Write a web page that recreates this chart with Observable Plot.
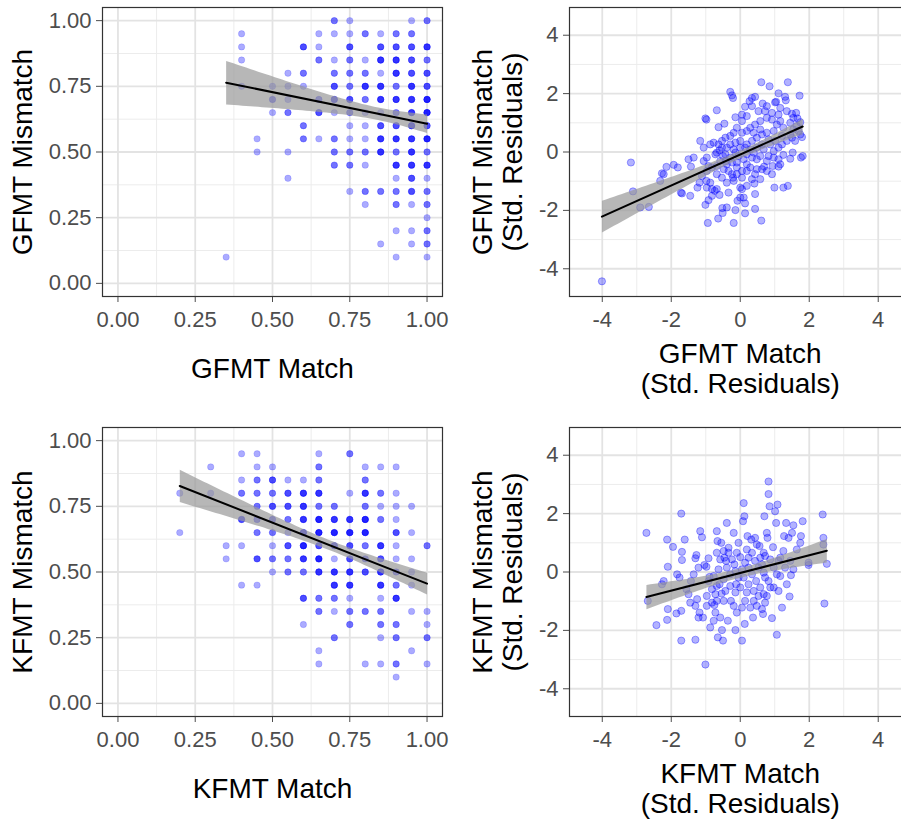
<!DOCTYPE html>
<html><head><meta charset="utf-8">
<script src="https://cdn.jsdelivr.net/npm/d3@7"></script>
<script src="https://cdn.jsdelivr.net/npm/@observablehq/plot@0.6"></script>
<style>
html,body{margin:0;padding:0;background:#fff;overflow:hidden}
#fig{position:relative;width:901px;height:820px;overflow:hidden;background:#fff}
.panel{position:absolute}
</style></head><body><div id="fig"></div>
<script>
// ---- axis labels / ticks ----
const propTicks = [0, 0.25, 0.5, 0.75, 1];
const propMinor = [0.125, 0.375, 0.625, 0.875];
const residTicks = [-4, -2, 0, 2, 4];
const residMinor = [-3, -1, 1, 3];
const labels = {
  gfmtX: "GFMT Match", gfmtY: "GFMT Mismatch",
  kfmtX: "KFMT Match", kfmtY: "KFMT Mismatch",
  gfmtRX: "GFMT Match\n(Std. Residuals)", gfmtRY: "GFMT Mismatch\n(Std. Residuals)",
  kfmtRX: "KFMT Match\n(Std. Residuals)", kfmtRY: "KFMT Mismatch\n(Std. Residuals)"
};

// ---- GFMT raw proportions: [match, mismatch, number of participants] ----
const gfmtCells = [
 [.70,1,2],[.75,1,1],[.95,1,1],[1,1,2],
 [.40,.95,1],[.65,.95,1],[.70,.95,1],[.75,.95,1],[.80,.95,2],[.85,.95,1],[.90,.95,2],[.95,.95,2],
 [.40,.90,1],[.60,.90,3],[.65,.90,1],[.75,.90,3],[.85,.90,3],[.90,.90,3],[.95,.90,3],[1,.90,4],
 [.40,.85,1],[.65,.85,2],[.70,.85,1],[.75,.85,2],[.80,.85,1],[.85,.85,4],[.90,.85,4],[.95,.85,3],[1,.85,2],
 [.55,.80,1],[.60,.80,2],[.70,.80,2],[.75,.80,2],[.80,.80,2],[.85,.80,1],[.90,.80,4],[.95,.80,3],[1,.80,3],
 [.40,.75,1],[.50,.75,1],[.55,.75,1],[.60,.75,1],[.70,.75,3],[.75,.75,2],[.80,.75,4],[.85,.75,4],[.90,.75,2],[.95,.75,4],[1,.75,3],
 [.50,.70,2],[.55,.70,1],[.65,.70,2],[.70,.70,3],[.75,.70,3],[.80,.70,2],[.85,.70,4],[.90,.70,4],[.95,.70,4],[1,.70,5],
 [.50,.65,1],[.55,.65,2],[.65,.65,3],[.70,.65,1],[.75,.65,2],[.80,.65,1],[.85,.65,1],[.90,.65,2],[.95,.65,4],[1,.65,5],
 [.60,.60,2],[.75,.60,1],[.80,.60,1],[.85,.60,3],[.90,.60,3],[.95,.60,4],[1,.60,3],
 [.45,.55,1],[.60,.55,2],[.65,.55,1],[.70,.55,2],[.75,.55,1],[.80,.55,1],[.85,.55,4],[.90,.55,4],[.95,.55,4],[1,.55,5],
 [.45,.50,1],[.55,.50,1],[.70,.50,2],[.75,.50,2],[.80,.50,2],[.85,.50,4],[.90,.50,2],[.95,.50,4],[1,.50,2],
 [.70,.45,2],[.75,.45,2],[.80,.45,1],[.90,.45,4],[.95,.45,4],[1,.45,4],
 [.55,.40,1],[.90,.40,1],[.95,.40,3],[1,.40,1],
 [.75,.35,1],[.80,.35,2],[.85,.35,2],[.90,.35,2],[.95,.35,3],[1,.35,2],
 [.80,.30,1],[.90,.30,2],[.95,.30,1],[1,.30,2],
 [1,.25,1],
 [.90,.20,1],[.95,.20,1],[1,.20,2],
 [.85,.15,1],[.95,.15,1],[1,.15,2],
 [.35,.10,1],[.90,.10,1],[1,.10,1]
];

// ---- KFMT raw proportions: [match, mismatch, number of participants] ----
const kfmtCells = [
 [.40,.95,1],[.45,.95,1],[.65,.95,1],[.75,.95,2],
 [.30,.90,1],[.45,.90,1],[.50,.90,1],[.65,.90,2],[.80,.90,1],[.85,.90,1],[.90,.90,1],
 [.40,.85,1],[.45,.85,2],[.50,.85,3],[.55,.85,1],[.60,.85,1],[.65,.85,2],[.80,.85,2],
 [.20,.80,1],[.30,.80,1],[.40,.80,2],[.45,.80,2],[.50,.80,2],[.55,.80,3],[.60,.80,4],[.65,.80,4],[.75,.80,1],[.80,.80,4],[.85,.80,2],[.90,.80,1],
 [.45,.75,2],[.50,.75,3],[.55,.75,3],[.60,.75,4],[.65,.75,2],[.70,.75,2],[.80,.75,2],[.85,.75,1],[.90,.75,1],[.95,.75,1],
 [.40,.70,3],[.45,.70,2],[.50,.70,2],[.55,.70,2],[.60,.70,4],[.65,.70,5],[.70,.70,4],[.75,.70,4],[.80,.70,5],[.85,.70,2],[.90,.70,1],
 [.20,.65,1],[.45,.65,2],[.50,.65,2],[.55,.65,1],[.60,.65,4],[.65,.65,5],[.70,.65,5],[.75,.65,5],[.80,.65,5],[.90,.65,3],[.95,.65,1],
 [.35,.60,1],[.40,.60,1],[.50,.60,1],[.55,.60,3],[.60,.60,5],[.65,.60,3],[.70,.60,3],[.75,.60,3],[.80,.60,2],[.85,.60,4],[.90,.60,1],[1,.60,2],
 [.35,.55,1],[.45,.55,3],[.50,.55,2],[.55,.55,2],[.60,.55,4],[.65,.55,5],[.70,.55,1],[.75,.55,3],[.80,.55,2],[.85,.55,3],[.90,.55,1],[.95,.55,1],
 [.50,.50,1],[.55,.50,2],[.60,.50,2],[.65,.50,4],[.70,.50,4],[.75,.50,4],[.80,.50,3],[.85,.50,4],[.90,.50,2],[.95,.50,1],
 [.40,.45,1],[.45,.45,1],[.70,.45,4],[.75,.45,4],[.85,.45,4],[.90,.45,2],[.95,.45,1],
 [.60,.40,3],[.65,.40,2],[.70,.40,2],[.75,.40,1],[.85,.40,1],[.90,.40,4],
 [.65,.35,2],[.70,.35,1],[.75,.35,2],[.80,.35,2],[.85,.35,2],[.95,.35,1],[1,.35,1],
 [.60,.30,1],[.75,.30,2],[.85,.30,2],[.90,.30,2],[1,.30,1],
 [.70,.25,2],[.85,.25,1],[.90,.25,2],[1,.25,2],
 [.65,.20,1],[.95,.20,1],
 [.65,.15,1],[.80,.15,1],[.85,.15,1],[.90,.15,2],[1,.15,1],
 [.90,.10,1]
];

// ---- GFMT standardized residuals: [match, mismatch] ----
const gfmtResid = [
 [-4.01,-4.43],[-3.17,-0.36],[-3.11,-1.35],[-2.90,-1.90],[-2.65,-1.88],[-2.27,-0.73],[-2.14,-0.51],[-1.93,-0.44],
 [-1.81,-0.53],[-2.22,-0.76],[-2.32,-0.99],[-1.72,-1.39],[-1.69,-1.42],[-1.45,-1.50],[-1.50,-0.25],[-1.35,-0.19],
 [-1.43,-0.50],[-1.24,-1.22],[-1.16,0.38],[-1.01,1.15],[-0.98,1.11],[-0.68,1.43],[-0.63,0.85],[-0.46,0.97],
 [-0.29,2.06],[-0.21,1.85],[-0.24,1.94],[-0.14,1.19],[0.05,1.28],[0.14,1.55],[0.27,1.74],[0.34,1.85],
 [0.43,1.89],[0.61,2.39],[0.85,2.25],[1.38,2.39],[1.11,2.01],[0.65,1.66],[1.04,1.72],[1.30,1.89],
 [1.32,1.77],[1.72,1.93],[1.50,1.31],[1.62,1.34],[1.66,1.15],[1.74,1.02],[1.79,0.51],[1.74,0.60],
 [1.81,-0.14],[1.76,-0.19],[1.52,-0.02],[1.45,-0.23],[1.25,-0.10],[1.11,-0.25],[0.94,-0.48],[1.11,-0.50],
 [0.99,-1.22],[1.25,-1.22],[1.38,-1.16],[0.61,-2.35],[0.43,-1.95],[0.43,-1.44],[0.14,-2.10],[-0.14,-1.99],
 [-0.19,-2.43],[-0.51,-2.09],[-0.64,-2.28],[-0.94,-2.43],[-0.52,-1.92],[-1.01,-1.81],[-0.92,-1.65],[-0.82,-1.50],
 [-0.74,-1.33],[-0.68,-1.27],[-0.60,-1.47],[-0.87,-1.05],[-0.98,-0.99],[-1.18,-1.05],[-1.11,-0.82],[-0.97,-0.65],
 [-0.92,-0.48],[-1.06,-0.31],[-0.97,-0.19],[-0.72,-0.08],[-0.68,-0.02],[-0.60,0.06],[-0.50,-0.14],[-0.42,-0.31],
 [-0.48,-0.59],[-0.34,-0.65],[-0.24,-0.76],[-0.19,-0.99],[-0.10,-0.53],[0.05,-0.65],[0.00,-1.22],[0.10,-1.56],
 [0.14,-1.76],[0.05,-1.27],[0.19,-1.16],[0.34,-0.93],[0.43,-0.76],[0.58,-0.93],[0.41,-1.08],[0.48,-0.59],
 [0.69,-0.50],[0.58,-0.14],[0.77,-0.31],[0.82,-0.14],[0.97,-0.19],[1.16,-0.42],[0.68,0.09],[0.87,0.26],
 [1.01,0.38],[1.21,0.55],[1.45,0.60],[1.54,0.77],[1.64,0.89],[1.06,0.94],[1.16,1.06],[0.92,1.11],
 [0.77,1.17],[0.58,1.06],[0.43,0.94],[0.29,0.83],[0.19,0.72],[0.05,0.66],[-0.10,0.83],[-0.19,0.66],
 [-0.29,0.55],[-0.43,0.49],[-0.53,0.38],[-0.63,0.26],[-0.77,0.32],[-0.87,0.26],[-1.06,0.15],[-0.39,0.15],
 [-0.19,0.09],[0.00,0.15],[0.19,0.26],[0.34,0.38],[0.48,0.49],[0.63,0.60],[0.77,0.66],[0.97,0.72],
 [1.25,0.83],[1.35,0.38],[1.50,0.49],[0.19,-0.08],[0.34,-0.19],[0.48,0.15],[0.63,0.26],[0.82,0.43],
 [0.10,-0.25],[-0.05,-0.14],[-0.14,-0.02],[-0.29,-0.19],[-0.39,-0.42],[0.19,-0.42],[0.29,-0.53],[0.19,-0.65],
 [-0.10,-0.76],[-0.21,-0.88],[-0.39,-1.05],[-0.53,-0.88],[-0.68,-0.76],[-0.82,-0.53],[-0.68,-0.48],[-0.58,-0.31],
 [0.05,-0.88],[0.39,-0.02],[0.97,0.03],[1.11,0.15],[1.21,0.26],[0.92,1.34],[0.72,1.40],[0.19,1.23],
 [0.05,1.06],[0.53,1.40],[0.34,1.57],[1.11,1.28],[1.35,1.40],[1.54,1.17],[1.45,1.00],[1.69,0.72],
 [1.59,0.38],[1.16,1.51],[1.01,1.70],[0.77,1.57],[0.39,0.66],[0.58,0.77],[0.00,0.38],[-0.14,0.32],
 [-0.29,0.26],[-0.43,-0.08],[-0.53,0.15],[-0.24,-0.36],[-0.10,-0.36],[0.14,0.15],[0.29,0.09],[0.48,-0.25],
 [0.63,-0.59],[0.77,-0.65],[0.92,-0.76],[-0.97,-1.22],[-0.82,-1.27],[-0.34,-1.39],[0.00,-1.56],[-0.39,-1.90],
 [-0.08,-1.67]
];

// ---- KFMT standardized residuals: [match, mismatch] ----
const kfmtResid = [
 [-2.72,1.34],[-2.68,-0.99],[-2.43,-1.82],[-2.22,-0.31],[-2.27,-0.42],[-2.12,1.11],[-2.10,0.18],[-2.10,-1.27],
 [-2.12,-1.64],[-1.95,0.86],[-1.85,-1.42],[-1.76,-0.19],[-1.71,2.00],[-1.71,-1.33],[-1.71,-2.35],[-1.69,0.69],
 [-1.69,0.41],[-1.61,1.11],[-1.56,-0.59],[-1.45,-1.05],[-1.43,-0.31],[-1.30,-2.32],[-1.30,0.47],[-1.27,0.58],
 [-1.25,-0.93],[-1.21,-1.56],[-1.18,-1.39],[-1.16,1.40],[-1.11,1.19],[-1.08,-1.56],[-1.04,0.24],[-1.01,-3.17],
 [-0.98,0.18],[-0.97,-0.82],[-0.97,-1.16],[-0.92,0.47],[-0.89,-0.17],[-0.87,-1.90],[-0.82,-1.05],[-0.77,-1.67],
 [-0.75,-1.13],[-0.72,-1.39],[-0.68,-0.48],[-0.68,1.40],[-0.66,1.06],[-0.65,-2.24],[-0.63,0.09],[-0.60,-0.42],
 [-0.58,-1.56],[-0.55,1.00],[-0.54,-0.74],[-0.53,-1.99],[-0.50,-2.35],[-0.48,-0.99],[-0.46,0.49],[-0.41,0.38],
 [-0.39,1.68],[-0.36,-1.67],[-0.34,0.83],[-0.29,-0.08],[-0.27,-0.99],[-0.19,1.34],[-0.17,0.26],[-0.14,-1.99],
 [-0.12,-0.42],[-0.10,-1.39],[-0.05,1.00],[0.00,0.51],[0.05,-2.35],[0.08,1.74],[0.10,2.36],[0.12,1.91],
 [0.13,-1.78],[0.14,-0.99],[0.19,-0.70],[0.21,1.23],[0.24,0.49],[0.29,-1.22],[0.32,1.11],[0.34,-0.08],
 [0.37,-1.56],[0.39,-0.99],[0.43,1.17],[0.46,-0.31],[0.53,-0.82],[0.56,0.89],[0.58,0.49],[0.63,-1.27],
 [0.66,-1.44],[0.68,-0.02],[0.70,1.91],[0.72,0.55],[0.77,1.34],[0.79,1.17],[0.82,3.10],[0.82,2.67],
 [0.85,2.25],[0.87,-0.53],[0.92,-1.58],[0.95,0.85],[1.01,2.08],[1.04,1.68],[1.06,-2.15],[1.08,2.31],
 [1.11,0.38],[1.16,-0.14],[1.21,-1.22],[1.25,0.72],[1.27,1.23],[1.33,1.68],[1.35,-0.42],[1.40,1.17],
 [1.43,-0.84],[1.47,-0.11],[1.50,1.34],[1.54,1.60],[1.64,0.77],[1.74,1.00],[1.76,1.23],[1.81,1.74],
 [1.98,0.32],[1.98,0.24],[2.39,1.97],[2.41,1.17],[2.41,0.94],[2.44,-1.08],[2.51,0.28],
 [-0.77,-0.14],[-0.92,-0.31],[-0.82,-0.59],[-0.72,-0.76],[-0.68,-0.99],[-0.48,-0.25],[-0.39,0.15],[-0.34,0.66],
 [-0.24,0.43],[-0.14,0.03],[-0.05,-0.19],[0.05,0.09],[0.14,0.32],[0.24,0.15],[0.34,0.66],[0.43,0.38],
 [0.53,0.15],[0.63,0.26],[0.72,-0.19],[0.82,-0.31],[0.97,0.15],[1.06,-0.08],[0.58,-0.53],[0.68,-0.76],
 [0.77,-0.82],[0.00,-0.53],[-0.14,-0.70],[-0.29,-0.48],[-0.43,-0.65],[-0.58,0.43],[-0.68,0.66],[-0.48,0.72],
 [-0.10,0.66],[0.19,0.77],[0.48,0.94],[0.68,0.66],[0.87,0.43],[1.16,0.49],[1.45,0.38],[1.54,0.09],
 [1.30,0.15],[0.97,-0.53],[1.11,-0.65],[0.39,-0.65],[0.24,-0.42],[0.10,-0.19],[-1.21,0.15],[-1.35,-0.08],
 [-1.50,-0.76],[-1.83,-0.08],[-1.30,-1.16],[-0.19,-1.16],[0.05,-1.22],[0.48,-1.16],[0.72,-1.05]
];

// expand grid cells into one row per participant
function expand(cells) {
  const out = [];
  for (const [x, y, n] of cells) for (let i = 0; i < n; i++) out.push({x, y});
  return out;
}
const pairs = arr => arr.map(([x, y]) => ({x, y}));

const fmt2 = d3.format(".2f");
const fmt0 = d => String(d);

function panel(o) {
  const svg = Plot.plot({
    width: o.width, height: 410,
    marginLeft: o.mL, marginRight: o.mR, marginTop: 7, marginBottom: 114,
    style: {fontFamily: "'Liberation Sans', Arial, sans-serif", fontSize: "22px", color: "#4d4d4d", background: "transparent", overflow: "visible"},
    x: {domain: o.domain[0], ticks: o.ticks, tickFormat: o.fmt, tickSize: 6, tickPadding: 9, label: null},
    y: {domain: o.domain[1], ticks: o.ticks, tickFormat: o.fmt, tickSize: 6, tickPadding: 5, label: null},
    marks: [
      Plot.ruleX(o.minor, {stroke: "#ececec", strokeWidth: 1}),
      Plot.ruleY(o.minor, {stroke: "#ececec", strokeWidth: 1}),
      Plot.ruleX(o.ticks, {stroke: "#e3e3e3", strokeWidth: 1.8}),
      Plot.ruleY(o.ticks, {stroke: "#e3e3e3", strokeWidth: 1.8}),
      Plot.dot(o.data, {x: "x", y: "y", r: o.r, fill: "blue", fillOpacity: o.fo, stroke: "blue", strokeOpacity: o.so, strokeWidth: 1}),
      Plot.linearRegressionY(o.data, {x: "x", y: "y", ci: 0.95, stroke: "black", strokeWidth: 2, fill: "#999999", fillOpacity: 0.7}),
      Plot.frame({stroke: "#333333", strokeWidth: 1.2}),
      Plot.text([o.xLabel], {text: d => d, frameAnchor: "bottom", textAnchor: "middle", lineAnchor: "middle", dy: 72, fontSize: 28, fill: "#000", lineHeight: 1.07}),
      Plot.text([o.yLabel], {text: d => d, frameAnchor: "left", textAnchor: "middle", lineAnchor: "middle", dx: o.yDx, rotate: -90, fontSize: 28, fill: "#000", lineHeight: 1.07})
    ]
  });
  svg.classList.add("panel");
  svg.style.left = o.left + "px";
  svg.style.top = o.top + "px";
  document.getElementById("fig").appendChild(svg);
}

const propOpts = {width: 450, mL: 102, mR: 8, domain: [[-0.05, 1.05], [-0.05, 1.05]], ticks: propTicks, minor: propMinor, fmt: fmt2, r: 3.2, fo: 0.33, so: 0.15, yDx: -80};
const residOpts = {width: 470, mL: 119, mR: 9.5, domain: [[-4.95, 4.95], [-4.95, 4.95]], ticks: residTicks, minor: residMinor, fmt: fmt0, r: 3.6, fo: 0.3, so: 0.35, yDx: -72};

panel({...propOpts, data: expand(gfmtCells), xLabel: labels.gfmtX, yLabel: labels.gfmtY, left: 0, top: 0});
panel({...residOpts, data: pairs(gfmtResid), xLabel: labels.gfmtRX, yLabel: labels.gfmtRY, left: 450, top: 0});
panel({...propOpts, data: expand(kfmtCells), xLabel: labels.kfmtX, yLabel: labels.kfmtY, left: 0, top: 420});
panel({...residOpts, data: pairs(kfmtResid), xLabel: labels.kfmtRX, yLabel: labels.kfmtRY, left: 450, top: 420});
</script></body></html>
